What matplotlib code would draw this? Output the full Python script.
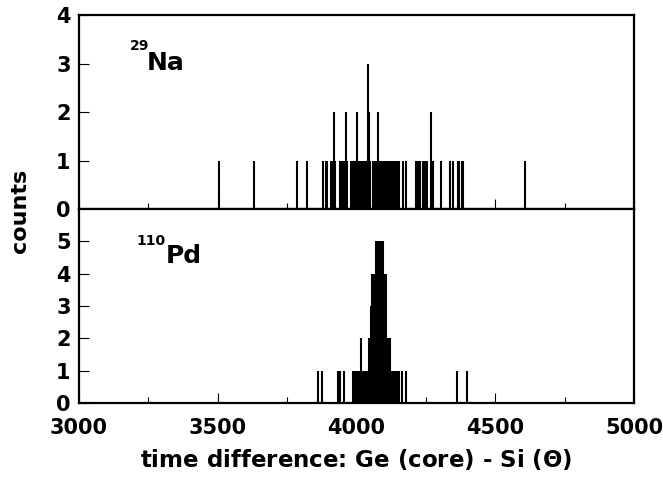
import matplotlib
matplotlib.use('Agg')
import matplotlib.pyplot as plt

plt.rcParams['font.family'] = ['DejaVu Sans']
plt.rcParams['font.weight'] = 'bold'
plt.rcParams['mathtext.fontset'] = 'dejavusans'

# 29Na spectrum: bin position -> counts
na_x = [3505, 3632, 3787, 3823, 3878, 3890, 3895, 3907, 3911, 3915, 3920, 3924,
        3941, 3945, 3949, 3953, 3957, 3962, 3965, 3980, 3984, 3988, 3992, 3996,
        4003, 4008, 4012, 4016, 4020, 4024, 4028, 4032, 4036, 4041, 4046, 4050,
        4058, 4064, 4068, 4072, 4079, 4084, 4088, 4092, 4096, 4100, 4104, 4108,
        4112, 4121, 4125, 4129, 4133, 4137, 4141, 4145, 4149, 4153, 4166, 4178,
        4214, 4218, 4222, 4229, 4241, 4245, 4251, 4255, 4268, 4277, 4304, 4337,
        4346, 4366, 4370, 4379, 4383, 4609]
na_y = [1, 1, 1, 1, 1, 1, 1, 1, 1, 1, 2, 1,
        1, 1, 1, 1, 1, 2, 1, 1, 1, 1, 1, 1,
        2, 1, 1, 1, 1, 1, 1, 1, 1, 3, 2, 1,
        1, 1, 1, 1, 2, 1, 1, 1, 1, 1, 1, 1,
        1, 1, 1, 1, 1, 1, 1, 1, 1, 1, 1, 1,
        1, 1, 1, 1, 1, 1, 1, 1, 2, 1, 1, 1,
        1, 1, 1, 1, 1, 1]

# 110Pd spectrum
pd_x = [3862, 3874, 3932, 3939, 3956, 3986, 3990, 3994, 3998, 4002, 4006, 4010,
        4016, 4020, 4028, 4032, 4036, 4040, 4044, 4048, 4052, 4057, 4061, 4065,
        4071, 4075, 4079, 4083, 4090, 4094, 4099, 4103, 4107, 4113, 4117, 4121,
        4128, 4132, 4140, 4144, 4148, 4154, 4165, 4177, 4361, 4399]
pd_y = [1, 1, 1, 1, 1, 1, 1, 1, 1, 1, 1, 1,
        2, 1, 1, 1, 1, 1, 2, 2, 3, 4, 4, 4,
        5, 5, 5, 5, 5, 5, 4, 4, 4, 2, 2, 2,
        1, 1, 1, 1, 1, 1, 1, 1, 1, 1]

fig = plt.figure(figsize=(6.63, 4.79), dpi=100)
L, W = 79 / 663, 555 / 663
ax1 = fig.add_axes([L, 1 - 209 / 479, W, 194 / 479])
ax2 = fig.add_axes([L, 1 - 403 / 479, W, 194 / 479])

ax1.vlines(na_x, 0, na_y, color='k', lw=1.5)
ax2.vlines(pd_x, 0, pd_y, color='k', lw=1.5)

for ax in (ax1, ax2):
    ax.set_xlim(3000, 5000)
    ax.set_xticks([3000, 3500, 4000, 4500, 5000])
    ax.set_xticks([3250, 3750, 4250, 4750], minor=True)
    ax.tick_params(direction='in', which='major', length=7, width=0.8,
                   labelsize=15, top=False, right=False)
    ax.tick_params(direction='in', which='minor', length=4, width=0.8)
    ax.tick_params(axis='y', pad=6)
    ax.tick_params(axis='x', pad=11)
    for s in ax.spines.values():
        s.set_linewidth(1.6)

ax1.set_ylim(0, 4)
ax1.set_yticks([0, 1, 2, 3, 4])
ax1.tick_params(labelbottom=False)
ax2.set_ylim(0, 6)
ax2.set_yticks([0, 1, 2, 3, 4, 5])

ax1.text(0.092, 0.82, '29', transform=ax1.transAxes, fontsize=10, fontweight='bold')
ax1.text(0.122, 0.716, 'Na', transform=ax1.transAxes, fontsize=18, fontweight='bold')
ax2.text(0.103, 0.814, '110', transform=ax2.transAxes, fontsize=10, fontweight='bold')
ax2.text(0.157, 0.72, 'Pd', transform=ax2.transAxes, fontsize=18, fontweight='bold')

ax2.set_xlabel('time difference: Ge (core) - Si ($\\Theta$)', fontsize=16.5,
               fontweight='bold', labelpad=6)
fig.text(0.03, 0.56, 'counts', rotation=90, fontsize=16, fontweight='bold',
         ha='center', va='center')

fig.savefig('out.png', dpi=100)
